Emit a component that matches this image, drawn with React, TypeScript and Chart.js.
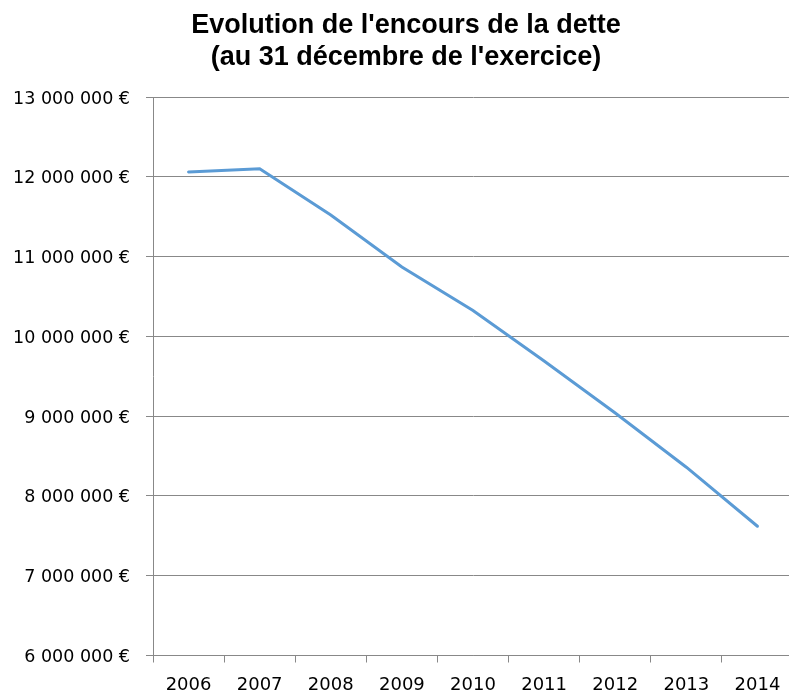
import React, { useEffect, useRef } from "react";
import { Chart, registerables } from "chart.js";

Chart.register(...registerables);

const titleLines = ["Evolution de l'encours de la dette", "(au 31 décembre de l'exercice)"];
const years = ["2006", "2007", "2008", "2009", "2010", "2011", "2012", "2013", "2014"];
const debt = [12060000, 12100000, 11520000, 10870000, 10325000, 9690000, 9040000, 8360000, 7620000];
const yMin = 6000000;
const yMax = 13000000;
const yStep = 1000000;

const formatEuro = (v: number) =>
  String(Math.round(v)).replace(/\B(?=(\d{3})+(?!\d))/g, " ") + " €";

export default function App() {
  const ref = useRef<HTMLCanvasElement>(null);

  useEffect(() => {
    document.body.style.margin = "0";
    document.body.style.overflow = "hidden";
    const canvas = ref.current!;
    const gray = "#888888";
    const chart = new Chart(canvas, {
      type: "line",
      data: {
        labels: years,
        datasets: [
          {
            data: debt,
            borderColor: "#5B9BD5",
            borderWidth: 3,
            pointRadius: 0,
            tension: 0,
            fill: false,
            borderCapStyle: "round",
          },
        ],
      },
      options: {
        responsive: false,
        animation: false,
        devicePixelRatio: 1,
        layout: { padding: 0 },
        plugins: {
          legend: { display: false },
          tooltip: { enabled: false },
          title: {
            display: true,
            text: titleLines,
            color: "#000000",
            font: { family: "'Liberation Sans', Arial, sans-serif", size: 27, weight: "bold", lineHeight: 1.15 },
            padding: { top: 10.5, bottom: 24.4 },
          },
        },
        scales: {
          x: {
            offset: true,
            grid: {
              offset: true,
              drawOnChartArea: false,
              drawTicks: true,
              tickLength: 7,
              color: gray,
            },
            border: { display: true, color: gray },
            ticks: {
              color: "#000000",
              font: { family: "'DejaVu Sans', sans-serif", size: 18 },
              padding: 12,
              maxRotation: 0,
              autoSkip: false,
            },
            afterFit: (s: any) => {
              s.height = 38.5;
            },
          },
          y: {
            min: yMin,
            max: yMax,
            grid: { color: gray, drawTicks: true, tickLength: 7 },
            border: { display: true, color: gray },
            ticks: {
              stepSize: yStep,
              color: "#000000",
              font: { family: "'DejaVu Sans', sans-serif", size: 17.5 },
              padding: 16,
              labelOffset: 2,
              callback: (v: any) => formatEuro(Number(v)),
            },
            afterFit: (s: any) => {
              s.width = 153;
            },
          },
          yRight: {
            type: "linear",
            position: "right",
            display: true,
            min: yMin,
            max: yMax,
            grid: { drawOnChartArea: false, drawTicks: false, display: false },
            border: { display: false },
            ticks: { display: false },
            afterFit: (s: any) => {
              s.width = 19;
            },
          },
        },
      },
    });
    return () => chart.destroy();
  }, []);

  return (
    <div style={{ width: 812, height: 694 }}>
      <canvas ref={ref} width={812} height={694} style={{ display: "block", width: 812, height: 694 }} />
    </div>
  );
}
